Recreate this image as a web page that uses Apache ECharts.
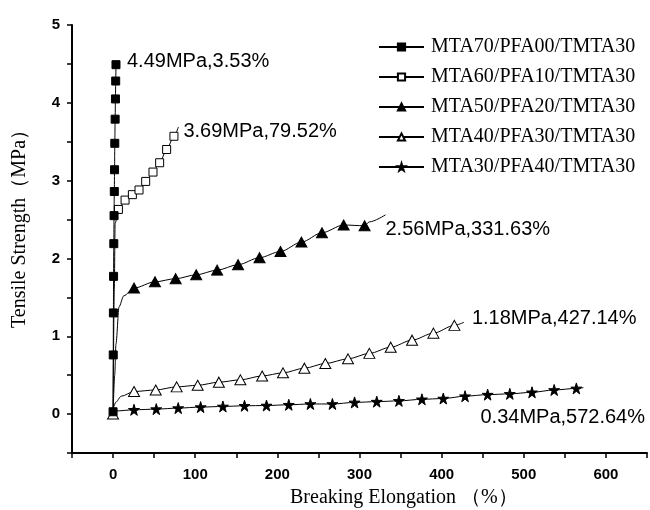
<!DOCTYPE html>
<html lang="en">
<head>
    <meta charset="UTF-8">
    <title>Tensile Strength vs Breaking Elongation</title>
    <script src="https://cdn.jsdelivr.net/npm/echarts@6/dist/echarts.min.js"></script>
</head>
<body style="margin:0;background:#fff">
<div id="main" style="width:650px;height:510px"></div>
<script type="text/javascript">
    // series names
    var names = ['MTA70/PFA00/TMTA30', 'MTA60/PFA10/TMTA30', 'MTA50/PFA20/TMTA30', 'MTA40/PFA30/TMTA30', 'MTA30/PFA40/TMTA30'];

    // points carrying a marker
    var markX = [
        [0, 0.2, 0.4, 0.6, 0.9, 1.2, 1.5, 1.8, 2.1, 2.5, 2.9, 3.2, 3.53],
        [6.5, 14.6, 23.5, 31.6, 39.7, 48.6, 56.7, 65.2, 74.1],
        [25.5, 51, 76.2, 101.2, 126.7, 152.2, 178.3, 203.8, 229.3, 254.3, 280.7, 306.2],
        [0, 25.5, 51.9, 77.4, 103, 128.8, 155, 181.5, 206.9, 232.9, 258.4, 286, 312, 338, 364, 390, 415.5],
        [25.5, 52.6, 79.3, 106.6, 133.7, 160, 186.8, 213.9, 240.2, 267, 294, 321, 348, 376, 402, 428.5, 456, 483, 510, 537, 564]
    ];
    var markY = [
        [0.03, 0.76, 1.30, 1.77, 2.19, 2.55, 2.86, 3.14, 3.48, 3.79, 4.05, 4.28, 4.49],
        [2.63, 2.75, 2.82, 2.88, 2.99, 3.11, 3.23, 3.40, 3.57],
        [1.62, 1.70, 1.74, 1.79, 1.85, 1.92, 2.01, 2.09, 2.21, 2.33, 2.43, 2.42],
        [0, 0.29, 0.31, 0.35, 0.37, 0.41, 0.44, 0.49, 0.53, 0.59, 0.65, 0.71, 0.78, 0.86, 0.95, 1.04, 1.14],
        [0.055, 0.064, 0.077, 0.09, 0.098, 0.107, 0.11, 0.12, 0.13, 0.13, 0.15, 0.16, 0.17, 0.19, 0.20, 0.23, 0.25, 0.26, 0.28, 0.31, 0.33]
    ];

    // points on the curve without a marker
    var curveX = [
        [],
        [0, 1.5, 2.5],
        [0, 2, 3.5, 7.3, 13, 312],
        [1, 3, 10],
        [0, 3]
    ];
    var curveY = [
        [],
        [0, 1.6, 2.45],
        [0, 0.5, 0.9, 1.38, 1.52, 2.47],
        [0.1, 0.15, 0.23],
        [0.02, 0.04]
    ];

    // break points
    var endX = [3.53, 79.52, 331.63, 427.14, 572.64];
    var endY = [4.49, 3.69, 2.56, 1.18, 0.34];
    var endText = ['4.49MPa,3.53%', '3.69MPa,79.52%', '2.56MPa,331.63%', '1.18MPa,427.14%', '0.34MPa,572.64%'];

    // styles
    var labelOffset = [[11, -3], [5, 5], [0, 15], [8, -4], [-103, 30]];
    var starPath = 'path://M50,0 L61,35 L98,35 L68,57 L79,91 L50,70 L21,91 L32,57 L2,35 L39,35 Z';
    var symbols = ['rect', 'rect', 'triangle', 'triangle', starPath];
    var symbolSizes = [8, 8, [11, 10], [11, 10], 11];
    var fills = ['#000', '#fff', '#000', '#fff', '#000'];

    function buildData(i) {
        var pts = [];
        curveX[i].forEach(function (x, k) {
            pts.push({value: [x, curveY[i][k]], symbol: 'none'});
        });
        markX[i].forEach(function (x, k) {
            pts.push({value: [x, markY[i][k]]});
        });
        var last = markX[i][markX[i].length - 1];
        if (last !== endX[i]) {
            pts.push({value: [endX[i], endY[i]], symbol: 'none'});
        }
        pts.sort(function (a, b) { return a.value[0] - b.value[0]; });
        return pts;
    }

    var series = names.map(function (n, i) {
        return {
            name: n,
            type: 'line',
            z: 10 - i,
            smooth: 0.3,
            smoothMonotone: 'x',
            symbol: symbols[i],
            symbolSize: symbolSizes[i],
            itemStyle: {color: fills[i], borderColor: '#000', borderWidth: 1},
            lineStyle: {color: '#000', width: 1},
            data: buildData(i),
            markPoint: {
                symbol: 'circle',
                symbolSize: 0,
                silent: true,
                label: {
                    show: true,
                    position: 'right',
                    distance: 0,
                    offset: labelOffset[i],
                    formatter: endText[i],
                    color: '#000',
                    fontFamily: 'Liberation Sans',
                    fontSize: 20
                },
                data: [{coord: [endX[i], endY[i]]}]
            }
        };
    });

    var myChart = echarts.init(document.getElementById('main'));
    myChart.setOption({
        animation: false,
        backgroundColor: '#fff',
        grid: {left: 72, top: 25, right: 1, bottom: 57},
        legend: {
            orient: 'vertical',
            left: 373,
            top: 32,
            itemWidth: 45,
            itemHeight: 9,
            itemGap: 10,
            data: names,
            textStyle: {fontFamily: 'Liberation Serif', fontSize: 20, color: '#000', lineHeight: 20, padding: [0, 0, 0, 2]}
        },
        xAxis: {
            type: 'value',
            min: -50,
            max: 650,
            interval: 50,
            axisLine: {onZero: false, lineStyle: {color: '#000', width: 2}},
            axisTick: {length: 5, lineStyle: {color: '#000', width: 1.5}},
            splitLine: {show: false},
            axisLabel: {
                margin: 14,
                color: '#000',
                fontFamily: 'Liberation Sans',
                fontWeight: 'bold',
                fontSize: 15,
                formatter: function (v) { return Math.round(v) % 100 === 0 ? Math.round(v) : ''; }
            }
        },
        yAxis: {
            type: 'value',
            min: -0.5,
            max: 5,
            interval: 0.5,
            axisLine: {show: true, onZero: false, lineStyle: {color: '#000', width: 2}},
            axisTick: {show: true, length: 5, lineStyle: {color: '#000', width: 1.5}},
            splitLine: {show: false},
            axisLabel: {
                margin: 12,
                color: '#000',
                fontFamily: 'Liberation Sans',
                fontWeight: 'bold',
                fontSize: 15,
                formatter: function (v) { return Math.abs(v - Math.round(v)) < 1e-6 ? Math.round(v) : ''; }
            }
        },
        graphic: [
            {
                type: 'text', x: 20, y: 328, rotation: Math.PI / 2,
                style: {text: 'Tensile Strength（MPa）', fill: '#000', font: '20px "Liberation Serif"', textAlign: 'left', textVerticalAlign: 'middle'}
            },
            {
                type: 'text', x: 290, y: 498,
                style: {text: 'Breaking Elongation （%）', fill: '#000', font: '20px "Liberation Serif"', textAlign: 'left', textVerticalAlign: 'middle'}
            }
        ],
        series: series
    });
</script>
</body>
</html>
